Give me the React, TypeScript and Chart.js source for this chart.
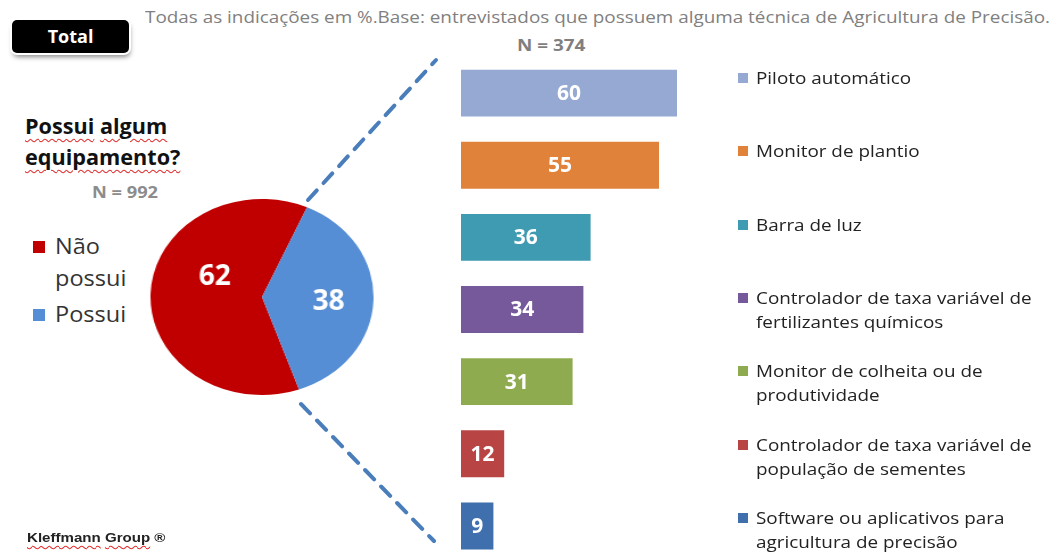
import React, { useEffect, useRef } from "react";
import { Chart, registerables } from "chart.js";
Chart.register(...registerables);

// ---------- data ----------
const pieLabels = ["Não possui", "Possui"];
const pieValues = [62, 38];
const pieColors = ["#c00000", "#558ed5"];

const barCategories: string[][] = [
  ["Piloto automático"],
  ["Monitor de plantio"],
  ["Barra de luz"],
  ["Controlador de taxa variável de", "fertilizantes químicos"],
  ["Monitor de colheita ou de", "produtividade"],
  ["Controlador de taxa variável de", "população de sementes"],
  ["Software ou aplicativos para", "agricultura de precisão"],
];
const barValues = [60, 55, 36, 34, 31, 12, 9];
const barColors = ["#95a9d3", "#e0823a", "#3f9bb1", "#76599b", "#8fab4f", "#b94444", "#3f6fad"];

const subtitle = "Todas as indicações em %.Base: entrevistados que possuem alguma técnica de Agricultura de Precisão.";
const barN = "N = 374";
const pieN = "N = 992";
const pieQuestion = [["Possui", "algum"], ["equipamento?"]];
const badge = "Total";

const FONT = "'Open Sans', 'DejaVu Sans', sans-serif";
const PIE_SX = 1.138;

const stretch = (s: number): React.CSSProperties => ({
  transform: `scaleX(${s})`,
  transformOrigin: "0 50%",
});

export default function App() {
  const pieRef = useRef<HTMLCanvasElement>(null);
  const barRef = useRef<HTMLCanvasElement>(null);

  useEffect(() => {
    const pieLabelPlugin = {
      id: "pieLabels",
      afterDatasetsDraw(chart: any) {
        const ctx = chart.ctx;
        const meta = chart.getDatasetMeta(0);
        const shifts = [23.6, 3];
        const factors = [0.47, 0.6];
        meta.data.forEach((arc: any, i: number) => {
          const p = arc.getProps(["x", "y", "startAngle", "endAngle", "outerRadius"], true);
          const mid = (p.startAngle + p.endAngle) / 2 + (shifts[i] * Math.PI) / 180;
          const r = p.outerRadius * factors[i];
          const x = p.x + Math.cos(mid) * r;
          const y = p.y + Math.sin(mid) * r;
          ctx.save();
          ctx.translate(x, y);
          ctx.scale(1 / PIE_SX, 1);
          ctx.fillStyle = "#ffffff";
          ctx.font = `bold 28px ${FONT}`;
          ctx.textAlign = "center";
          ctx.textBaseline = "middle";
          ctx.fillText(String(chart.data.datasets[0].data[i]), 0, 0);
          ctx.restore();
        });
      },
    };

    const barLabelPlugin = {
      id: "barLabels",
      afterDatasetsDraw(chart: any) {
        const ctx = chart.ctx;
        const meta = chart.getDatasetMeta(0);
        ctx.save();
        ctx.fillStyle = "#ffffff";
        ctx.font = `bold 21px ${FONT}`;
        ctx.textAlign = "center";
        ctx.textBaseline = "middle";
        meta.data.forEach((bar: any, i: number) => {
          const p = bar.getProps(["x", "y", "base"], true);
          ctx.fillText(String(chart.data.datasets[0].data[i]), (p.x + p.base) / 2, p.y + 1);
        });
        ctx.restore();
      },
    };

    const pie = new Chart(pieRef.current!, {
      type: "pie",
      data: {
        labels: pieLabels,
        datasets: [{ data: pieValues, backgroundColor: pieColors, borderWidth: 0 }],
      },
      options: {
        responsive: false,
        animation: false,
        rotation: 160.6,
        layout: { padding: 2 },
        plugins: { legend: { display: false }, tooltip: { enabled: false } },
      },
      plugins: [pieLabelPlugin],
    });

    const bar = new Chart(barRef.current!, {
      type: "bar",
      data: {
        labels: barCategories,
        datasets: [{ data: barValues, backgroundColor: barColors, borderWidth: 0 }],
      },
      options: {
        responsive: false,
        animation: false,
        indexAxis: "y",
        layout: { padding: 0 },
        scales: {
          x: { display: false, min: 0, max: 75 },
          y: { display: false },
        },
        datasets: { bar: { barPercentage: 0.65, categoryPercentage: 1 } },
        plugins: { legend: { display: false }, tooltip: { enabled: false } },
      },
      plugins: [barLabelPlugin],
    });

    return () => {
      pie.destroy();
      bar.destroy();
    };
  }, []);

  const wavy: React.CSSProperties = {
    textDecorationLine: "underline",
    textDecorationStyle: "wavy",
    textDecorationColor: "#e03030",
    textDecorationThickness: "1px",
    textUnderlineOffset: "4px",
  };

  return (
    <div
      style={{
        position: "fixed",
        left: 0,
        top: 0,
        width: 1063,
        height: 552,
        overflow: "hidden",
        background: "#ffffff",
        fontFamily: FONT,
      }}
    >
      {/* badge */}
      <div
        style={{
          position: "absolute",
          left: 12,
          top: 20,
          width: 117,
          height: 33,
          background: "#000",
          borderRadius: 5,
          color: "#fff",
          fontWeight: 700,
          fontSize: 18,
          lineHeight: "33px",
          textAlign: "center",
          boxShadow: "0 0 0 2px #fff, 1px 4px 5px rgba(0,0,0,0.45)",
        }}
      >
        {badge}
      </div>

      {/* subtitle */}
      <div
        style={{
          position: "absolute",
          left: 145,
          top: 6,
          fontSize: 17,
          lineHeight: "22px",
          color: "#808080",
          whiteSpace: "nowrap",
          ...stretch(1.11),
        }}
      >
        {subtitle}
      </div>
      <div
        style={{
          position: "absolute",
          left: 517,
          top: 35,
          fontSize: 16,
          fontWeight: 700,
          lineHeight: "20px",
          color: "#7f7f7f",
          whiteSpace: "nowrap",
          ...stretch(1.18),
        }}
      >
        {barN}
      </div>

      {/* pie question */}
      <div
        style={{
          position: "absolute",
          left: 25,
          top: 111,
          fontSize: 21,
          fontWeight: 700,
          lineHeight: "31px",
          color: "#111",
          whiteSpace: "nowrap",
          ...stretch(1.03),
        }}
      >
        {pieQuestion.map((line, li) => (
          <div key={li}>
            {line.map((w, wi) => (
              <React.Fragment key={wi}>
                {wi > 0 ? " " : ""}
                <span style={wavy}>{w}</span>
              </React.Fragment>
            ))}
          </div>
        ))}
      </div>
      <div
        style={{
          position: "absolute",
          left: 92,
          top: 182,
          fontSize: 16,
          fontWeight: 700,
          lineHeight: "20px",
          color: "#8c8c8c",
          whiteSpace: "nowrap",
          ...stretch(1.14),
        }}
      >
        {pieN}
      </div>

      {/* pie legend */}
      {pieLabels.map((lab, i) => {
        const words = i === 0 ? ["Não", "possui"] : [lab];
        const top = i === 0 ? 230 : 298;
        return (
          <div key={i} style={{ position: "absolute", left: 33, top }}>
            <div
              style={{
                position: "absolute",
                left: 0,
                top: 11,
                width: 12,
                height: 12,
                background: pieColors[i],
              }}
            />
            <div
              style={{
                position: "absolute",
                left: 22,
                top: 0,
                fontSize: 21,
                lineHeight: "32px",
                color: "#333",
                whiteSpace: "nowrap",
                ...stretch(1.12),
              }}
            >
              {words.map((w, k) => (
                <div key={k}>{w}</div>
              ))}
            </div>
          </div>
        );
      })}

      {/* pie */}
      <canvas
        ref={pieRef}
        width={200}
        height={200}
        style={{
          position: "absolute",
          left: 162,
          top: 197,
          width: 200,
          height: 200,
          transform: `scaleX(${PIE_SX})`,
          transformOrigin: "50% 50%",
        }}
      />

      {/* dashed connectors */}
      <svg
        width={1063}
        height={552}
        style={{ position: "absolute", left: 0, top: 0, pointerEvents: "none" }}
      >
        <line x1={308} y1={200} x2={436} y2={60} stroke="#4a7ebb" strokeWidth={4} strokeDasharray="13 10" strokeLinecap="round" />
        <line x1={301} y1={404} x2={434} y2={541} stroke="#4a7ebb" strokeWidth={4} strokeDasharray="13 10" strokeLinecap="round" />
      </svg>

      {/* bars */}
      <canvas
        ref={barRef}
        width={270}
        height={505}
        style={{ position: "absolute", left: 461, top: 57, width: 270, height: 505 }}
      />

      {/* bar legend */}
      {barCategories.map((lines, i) => {
        const top = 66 + i * 73.3;
        return (
          <div key={i} style={{ position: "absolute", left: 738, top }}>
            <div
              style={{
                position: "absolute",
                left: 0,
                top: 7,
                width: 10,
                height: 10,
                background: barColors[i],
              }}
            />
            <div
              style={{
                position: "absolute",
                left: 18,
                top: 0,
                fontSize: 17,
                lineHeight: "24px",
                color: "#222",
                whiteSpace: "nowrap",
                ...stretch(1.11),
              }}
            >
              {lines.map((l, k) => (
                <div key={k}>{l}</div>
              ))}
            </div>
          </div>
        );
      })}

      {/* credit */}
      <div
        style={{
          position: "absolute",
          left: 27,
          top: 529,
          fontSize: 13,
          fontWeight: 700,
          lineHeight: "18px",
          color: "#222",
          fontFamily: "'Liberation Sans', Arial, sans-serif",
          whiteSpace: "nowrap",
          ...stretch(1.16),
        }}
      >
        <span style={{ ...wavy, textUnderlineOffset: "3px" }}>Kleffmann</span>{" "}
        <span style={{ ...wavy, textUnderlineOffset: "3px" }}>Group</span> ®
      </div>
    </div>
  );
}
